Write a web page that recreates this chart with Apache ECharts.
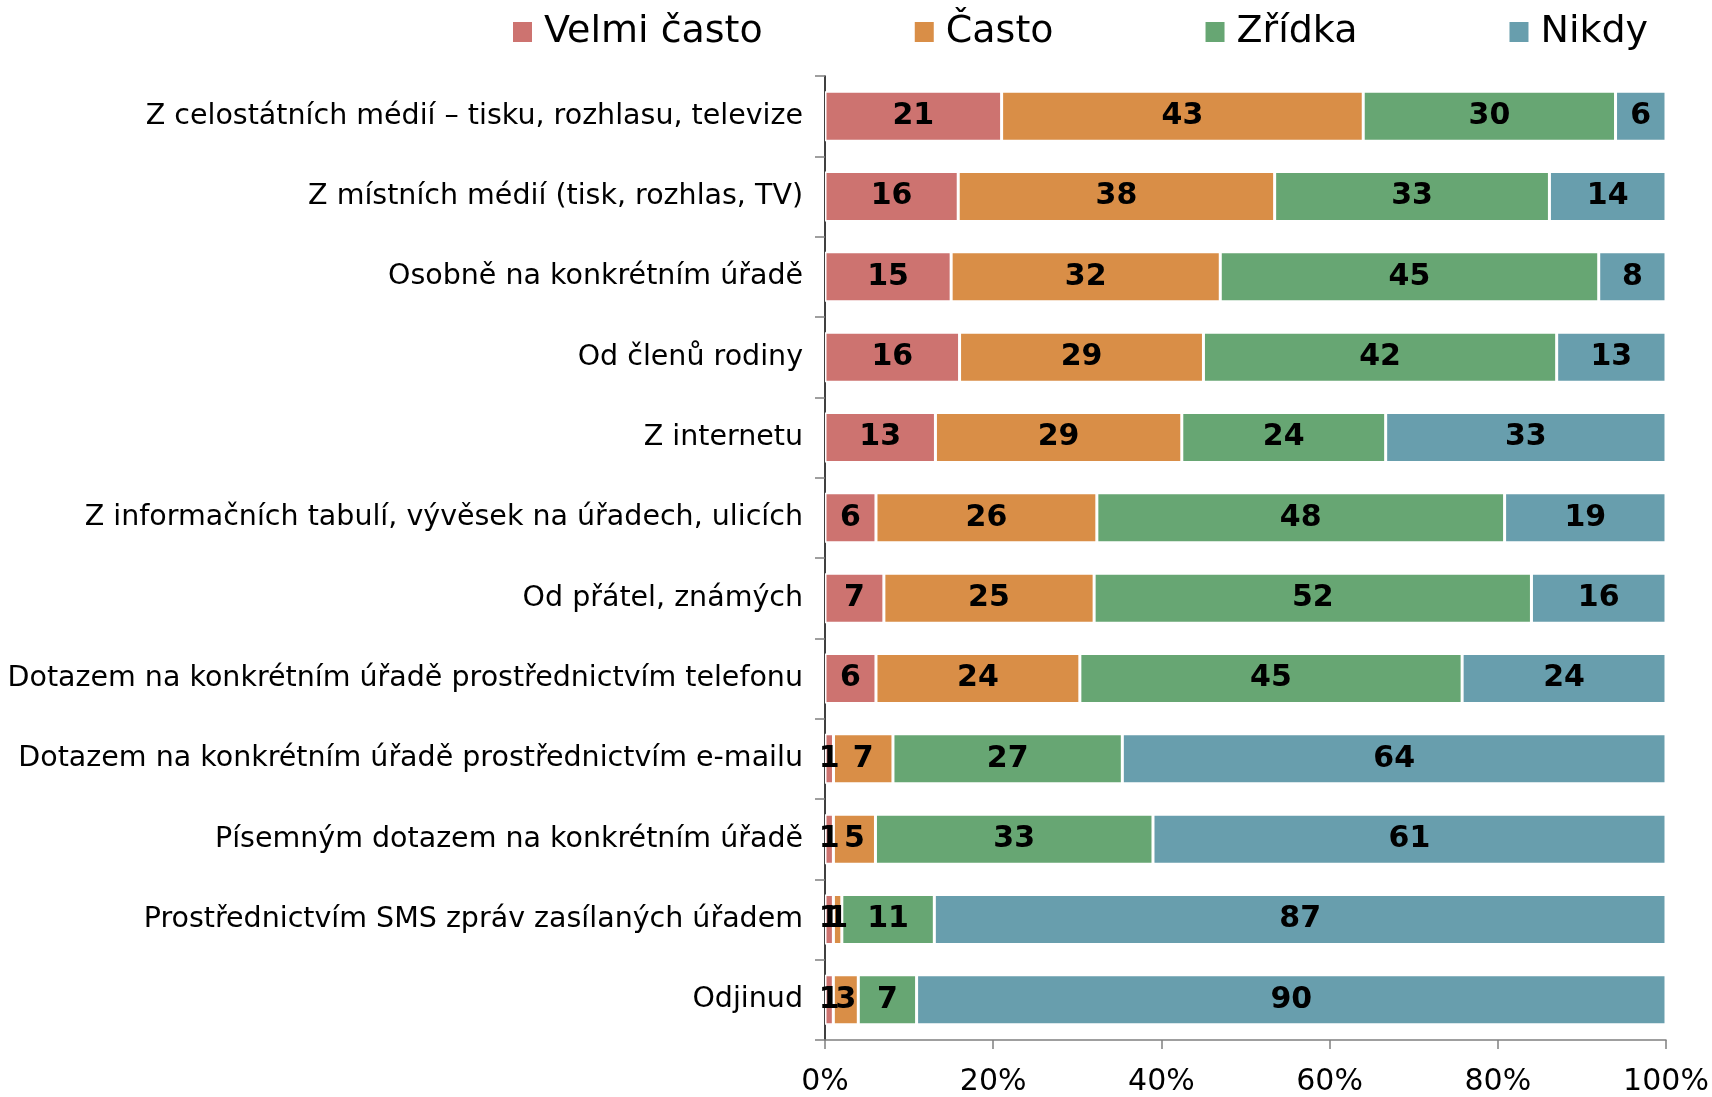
<!DOCTYPE html>
<html>
<head>
<meta charset="utf-8">
<script src="https://cdn.jsdelivr.net/npm/echarts@6/dist/echarts.min.js"></script>
<style>
  html, body { margin: 0; padding: 0; background: #fff; }
  #chart { width: 1712px; height: 1097px; }
</style>
</head>
<body>
<div id="chart"></div>
<script>
// Sources of information, share of answers per frequency (in %)
const categories = [
  'Z celostátních médií – tisku, rozhlasu, televize',
  'Z místních médií (tisk, rozhlas, TV)',
  'Osobně na konkrétním úřadě',
  'Od členů rodiny',
  'Z internetu',
  'Z informačních tabulí, vývěsek na úřadech, ulicích',
  'Od přátel, známých',
  'Dotazem na konkrétním úřadě prostřednictvím telefonu',
  'Dotazem na konkrétním úřadě prostřednictvím e-mailu',
  'Písemným dotazem na konkrétním úřadě',
  'Prostřednictvím SMS zpráv zasílaných úřadem',
  'Odjinud'
];
const seriesNames = ['Velmi často', 'Často', 'Zřídka', 'Nikdy'];
const velmiCasto = [21, 16, 15, 16, 13, 6, 7, 6, 1, 1, 1, 1];
const casto      = [43, 38, 32, 29, 29, 26, 25, 24, 7, 5, 1, 3];
const zridka     = [30, 33, 45, 42, 24, 48, 52, 45, 27, 33, 11, 7];
const nikdy      = [6, 14, 8, 13, 33, 19, 16, 24, 64, 61, 87, 90];
const xTicks = ['0%', '20%', '40%', '60%', '80%', '100%'];

const colors = ['#CD7370', '#D98E47', '#67A673', '#689EAD'];
const raw = [velmiCasto, casto, zridka, nikdy];

// 100 % stacked: each row is scaled to its own total, labels keep the answered value
const totals = categories.map((_, i) => raw.reduce((s, arr) => s + arr[i], 0));

const font = 'DejaVu Sans, Verdana, sans-serif';

const series = raw.map((arr, k) => ({
  name: seriesNames[k],
  type: 'bar',
  stack: 'total',
  barWidth: 50,
  itemStyle: { color: colors[k], borderColor: '#ffffff', borderWidth: 1.5 },
  label: {
    show: true,
    position: 'inside',
    color: '#000',
    fontFamily: font,
    fontWeight: 'bold',
    fontSize: 30,
    formatter: p => String(arr[p.dataIndex])
  },
  data: arr.map((v, i) => v / totals[i] * 100)
}));

const chart = echarts.init(document.getElementById('chart'), null, { renderer: 'canvas' });
chart.setOption({
  animation: false,
  color: colors,
  legend: {
    top: 8,
    left: 506,
    itemWidth: 21,
    itemHeight: 22,
    itemGap: 150,
    icon: 'rect',
    textStyle: { fontFamily: font, fontSize: 38, color: '#000', padding: [0, 0, 0, 6] },
    data: seriesNames
  },
  grid: { left: 825, right: 46, top: 76, bottom: 52, containLabel: false },
  xAxis: {
    type: 'value',
    min: 0,
    max: 100,
    interval: 20,
    axisLine: { show: true, lineStyle: { color: '#808080', width: 1.5 } },
    axisTick: { show: true, inside: false, length: 9, lineStyle: { color: '#808080', width: 1.5 } },
    splitLine: { show: false },
    axisLabel: {
      fontFamily: font, fontSize: 30, color: '#000', margin: 27,
      formatter: v => xTicks[Math.round(v / 20)]
    }
  },
  yAxis: {
    type: 'category',
    inverse: true,
    data: categories,
    axisLine: { show: true, lineStyle: { color: '#000', width: 1.5 } },
    axisTick: { show: true, inside: false, length: 10, lineStyle: { color: '#808080', width: 1.5 } },
    axisLabel: { fontFamily: font, fontSize: 28.5, color: '#000', margin: 22 }
  },
  series
});
</script>
</body>
</html>
